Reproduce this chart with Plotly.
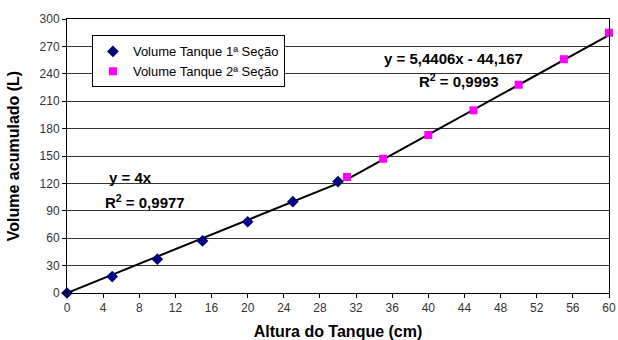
import plotly.graph_objects as go

x1 = [0, 5, 10, 15, 20, 25, 30]
y1 = [0, 18, 37, 57, 78, 100, 122]
x2 = [31, 35, 40, 45, 50, 55, 60]
y2 = [127, 147, 173, 200, 228, 256, 285]

slope1 = 4.0
slope2, icpt2 = 5.4406, -44.167

fig = go.Figure()
fig.add_trace(go.Scatter(x=[x1[0], x1[-1]], y=[slope1 * x1[0], slope1 * x1[-1]], mode="lines",
                         line=dict(color="black", width=2), showlegend=False, hoverinfo="skip"))
fig.add_trace(go.Scatter(x=[x2[0], x2[-1]], y=[slope2 * x2[0] + icpt2, slope2 * x2[-1] + icpt2], mode="lines",
                         line=dict(color="black", width=2), showlegend=False, hoverinfo="skip"))
fig.add_trace(go.Scatter(x=x1, y=y1, mode="markers", name="Volume Tanque 1ª Seção",
                         marker=dict(symbol="diamond", color="#000080", size=9), cliponaxis=False))
fig.add_trace(go.Scatter(x=x2, y=y2, mode="markers", name="Volume Tanque 2ª Seção",
                         marker=dict(symbol="square", color="#FF00FF", size=8), cliponaxis=False))

fig.add_annotation(x=42.8, y=257, text="<b>y = 5,4406x - 44,167</b>", showarrow=False,
                   font=dict(size=15, color="black"))
fig.add_annotation(x=43.4, y=233, text="<b>R<sup>2</sup> = 0,9993</b>", showarrow=False,
                   font=dict(size=15, color="black"))
fig.add_annotation(x=7.0, y=126, text="<b>y = 4x</b>", showarrow=False,
                   font=dict(size=15, color="black"))
fig.add_annotation(x=8.6, y=100, text="<b>R<sup>2</sup> = 0,9977</b>", showarrow=False,
                   font=dict(size=15, color="black"))

fig.update_layout(
    width=618, height=340,
    margin=dict(l=67, r=9, t=19, b=47, autoexpand=False),
    paper_bgcolor="white", plot_bgcolor="white",
    font=dict(family="Liberation Sans, Arial", color="black"),
    legend=dict(x=0.046, y=0.94, xanchor="left", yanchor="top",
                bgcolor="white", bordercolor="black", borderwidth=1,
                font=dict(size=13, color="black"), tracegroupgap=2),
    xaxis=dict(range=[0, 60], dtick=4, tick0=0, showgrid=False, zeroline=False, automargin=False,
               showline=True, linecolor="black", linewidth=1, mirror=True,
               ticks="outside", ticklen=4, tickcolor="black",
               tickfont=dict(size=12, color="#333"),
               title=dict(text="<b>Altura do Tanque (cm)</b>", font=dict(size=16))),
    yaxis=dict(range=[0, 300], dtick=30, tick0=0, showgrid=True, gridcolor="#333", gridwidth=1,
               zeroline=False, showline=True, linecolor="black", linewidth=1, mirror=True,
               automargin=False,
               ticks="outside", ticklen=4, tickcolor="black",
               tickfont=dict(size=12, color="#333"),
               title=dict(text="<b>Volume acumulado (L)</b>", font=dict(size=16))),
)

fig.write_html("out.html", config={"displayModeBar": False},
               post_script="document.body.style.margin='0';document.body.style.padding='0';")
